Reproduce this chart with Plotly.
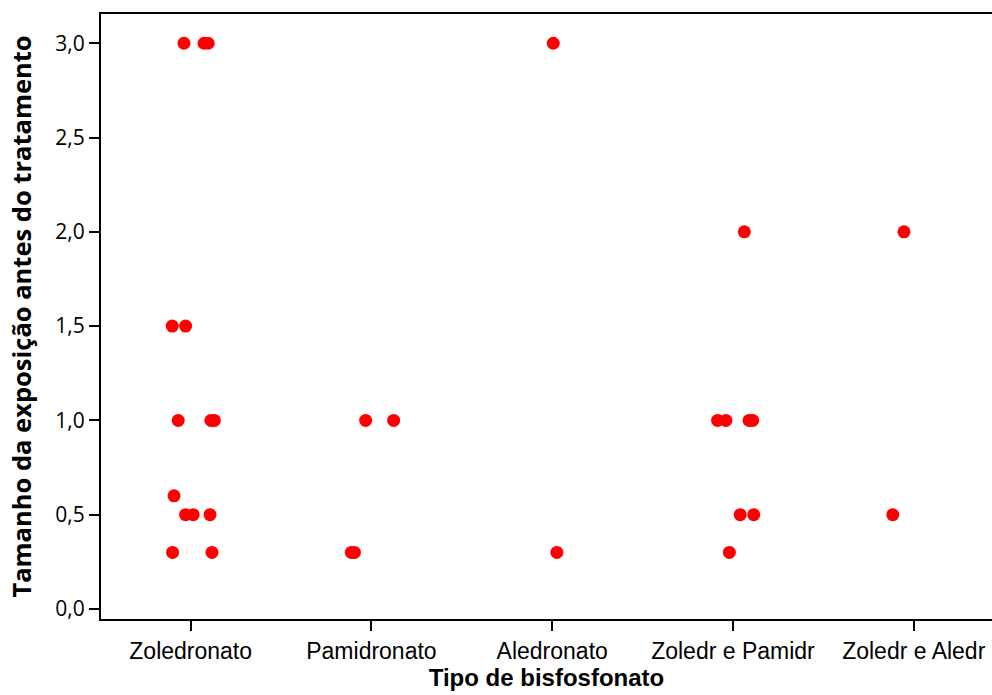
import plotly.graph_objects as go

categories = ["Zoledronato", "Pamidronato", "Aledronato", "Zoledr e Pamidr", "Zoledr e Aledr"]

# values and horizontal jitter (in category units) per group
zol_vals   = [3.0, 3.0, 3.0, 1.5, 1.5, 1.0, 1.0, 1.0, 0.6, 0.5, 0.5, 0.5, 0.3, 0.3]
zol_jit    = [-0.037, 0.074, 0.097, -0.102, -0.028, -0.069, 0.112, 0.131, -0.092, -0.028, 0.014, 0.107, -0.100, 0.118]
pam_vals   = [1.0, 1.0, 0.3, 0.3]
pam_jit    = [-0.032, 0.123, -0.111, -0.094]
ale_vals   = [3.0, 0.3]
ale_jit    = [0.006, 0.026]
zp_vals    = [2.0, 1.0, 1.0, 1.0, 1.0, 0.5, 0.5, 0.3]
zp_jit     = [0.063, -0.085, -0.039, 0.089, 0.109, 0.040, 0.115, -0.020]
za_vals    = [2.0, 0.5]
za_jit     = [-0.054, -0.116]

groups = [zol_vals, pam_vals, ale_vals, zp_vals, za_vals]
jitters = [zol_jit, pam_jit, ale_jit, zp_jit, za_jit]

yticks = [0.0, 0.5, 1.0, 1.5, 2.0, 2.5, 3.0]

xs, ys = [], []
for i, (vals, jit) in enumerate(zip(groups, jitters)):
    for v, j in zip(vals, jit):
        xs.append(i + j)
        ys.append(v)

fig = go.Figure()
fig.add_trace(go.Scatter(
    x=xs, y=ys, mode="markers",
    marker=dict(color="#ff0000", size=13, line=dict(width=0)),
    showlegend=False, hoverinfo="skip",
))

fig.update_layout(
    width=992, height=695,
    margin=dict(l=101, r=0, t=14, b=76),
    paper_bgcolor="white", plot_bgcolor="white",
    separators=",.",
    xaxis=dict(
        range=[-0.496, 4.433],
        tickmode="array", tickvals=list(range(len(categories))), ticktext=categories,
        showgrid=False, zeroline=False,
        showline=True, linecolor="black", linewidth=2, mirror=True,
        ticks="outside", ticklen=10, tickwidth=2, tickcolor="black",
        tickfont=dict(family="Liberation Sans, Arial, sans-serif", size=23, color="black"),
        title=dict(text="<b>Tipo de bisfosfonato</b>", standoff=5,
                   font=dict(family="Liberation Sans, Arial, sans-serif", size=24, color="black")),
    ),
    yaxis=dict(
        range=[-0.053, 3.155],
        tickmode="array", tickvals=yticks, tickformat=".1f",
        showgrid=False, zeroline=False,
        showline=True, linecolor="black", linewidth=2, mirror=False,
        ticks="outside", ticklen=10, tickwidth=2, tickcolor="black",
        tickfont=dict(family="Open Sans, DejaVu Sans, sans-serif", size=21, color="black"),
        title=dict(text="<b>Tamanho da exposição antes do tratamento</b>", standoff=16,
                   font=dict(family="Open Sans, DejaVu Sans, sans-serif", size=25.5, color="black")),
    ),
)

fig.write_html("out.html",
               config={"displayModeBar": False},
               post_script="document.body.style.margin='0';document.body.style.overflow='hidden';")
